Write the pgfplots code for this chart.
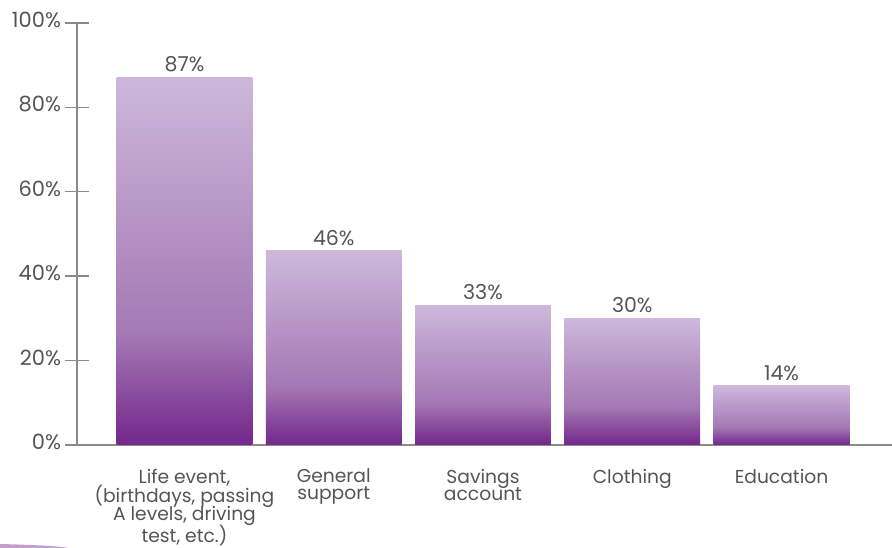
\documentclass[border=0pt]{standalone}
\usepackage{pgfplots}
\pgfplotsset{compat=1.18}
\usepackage{fontspec}
\setmainfont{Poppins}
\definecolor{barlight}{HTML}{CDB8DC}
\definecolor{barup}{HTML}{BDA0CC}
\definecolor{barmid}{HTML}{A478B4}
\definecolor{bardark}{HTML}{762C8E}
\definecolor{axisgray}{HTML}{8A8A8A}
\definecolor{textgray}{HTML}{555555}
\pgfdeclareverticalshading{barshade}{100bp}{color(0bp)=(bardark); color(26bp)=(bardark); color(40bp)=(barmid); color(62bp)=(barup); color(75bp)=(barlight); color(100bp)=(barlight)}
\begin{document}
\begin{tikzpicture}[font=\fontsize{18.7}{19}\selectfont, text=textgray]
\begin{axis}[
  at={(0,0)}, anchor=south west,
  scale only axis,
  width=815pt, height=422pt,
  xmin=-0.72, xmax=4.74,
  ymin=0, ymax=100,
  axis x line=bottom, axis y line=left,
  axis line style={-, draw=axisgray, line width=1.4pt},
  ytick={0,20,40,60,80,100},
  yticklabel={\pgfmathprintnumber{\tick}\%},
  /pgf/number format/assume math mode=true,
  ytick style={draw=axisgray, line width=1.4pt},
  major tick length=23pt,
  tick align=center,
  yticklabel style={anchor=east, xshift=-1pt, yshift=3pt, text=textgray, font=\fontsize{21}{22}\selectfont},
  xtick={0,1,2,3,4},
  xtick style={draw=none},
  xticklabels={{Life event,\\[-2pt](birthdays, passing\\[-2pt]A levels, driving\\[-2pt]test, etc.)},{General\\[-2pt]support},{Savings\\[-2pt]account},{Clothing},{Education}},
  xticklabel style={align=center, anchor=north, yshift=-9pt, text=textgray, font=\fontsize{18.7}{19}\selectfont},
  clip=false,
  every node near coord/.style={text=textgray, anchor=south, yshift=2pt, font=\fontsize{20.5}{22}\selectfont},
]
\foreach \xx/\vv in {0/87,1/46,2/33,3/30,4/14}{
  \edef\temp{\noexpand\addplot[ybar, bar width=0.91, bar shift=0pt, draw=none, shading=barshade, nodes near coords={\noexpand\pgfmathprintnumber{\noexpand\pgfplotspointmeta}\noexpand\%}] coordinates {(\xx,\vv)};}
  \temp
}
\end{axis}
\fill[bardark!45] (-77pt,-99pt) .. controls (-40pt,-100pt) and (-20pt,-101pt) .. (-8pt,-103pt) -- (-77pt,-103pt) -- cycle;
\pgfresetboundingbox
\path[use as bounding box] (-77pt,-103pt) rectangle (815pt,445pt);
\end{tikzpicture}
\end{document}
